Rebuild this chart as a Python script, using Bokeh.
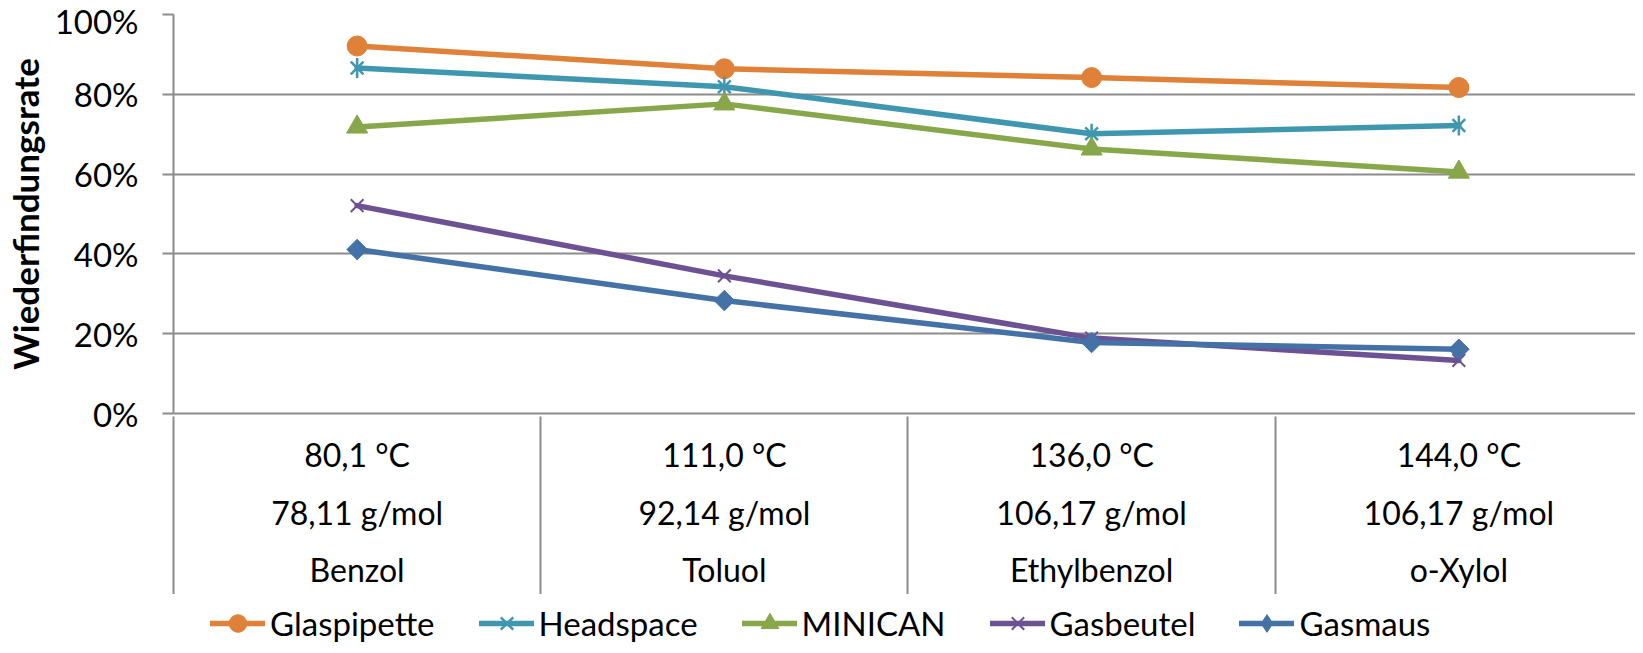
import math
from bokeh.plotting import figure
from bokeh.layouts import column
from bokeh.models import Range1d, LinearAxis, FixedTicker, Legend, LegendItem
from bokeh.embed import file_html
from bokeh.resources import INLINE

# ---- data ----
categories = ["Benzol", "Toluol", "Ethylbenzol", "o-Xylol"]
boiling_points = ["80,1 °C", "111,0 °C", "136,0 °C", "144,0 °C"]
molar_masses = ["78,11 g/mol", "92,14 g/mol", "106,17 g/mol", "106,17 g/mol"]

series_names = ["Glaspipette", "Headspace", "MINICAN", "Gasbeutel", "Gasmaus"]
glaspipette = [92.1, 86.4, 84.2, 81.7]
headspace = [86.6, 81.9, 70.1, 72.2]
minican = [71.8, 77.6, 66.3, 60.5]
gasbeutel = [52.1, 34.5, 18.9, 13.3]
gasmaus = [41.1, 28.3, 17.8, 16.1]

y_ticks = [0, 20, 40, 60, 80, 100]
y_tick_labels = ["0%", "20%", "40%", "60%", "80%", "100%"]
y_title = "Wiederfindungsrate"

# ---- styles ----
FONT = "Lato"
GRID = "#8c8c8c"
colors = ["#df8139", "#3e97af", "#87a74a", "#6c5292", "#4471a6"]

ncat = len(categories)
xs = [i + 0.5 for i in range(ncat)]

p = figure(width=1635, height=594, output_backend="svg", toolbar_location=None,
           x_range=Range1d(0, 3.981), y_range=Range1d(0, 1.0),
           x_axis_location=None, min_border_left=165, min_border_right=0,
           min_border_top=14, min_border_bottom=180, outline_line_color=None,
           background_fill_color="white", border_fill_color="white")
p.xgrid.visible = False

# y axis
ya = p.yaxis[0]
ya.ticker = FixedTicker(ticks=[t / 100 for t in y_ticks])
ya.major_label_overrides = {t / 100: l for t, l in zip(y_ticks, y_tick_labels)}
ya.axis_line_color = GRID
ya.axis_line_width = 2
ya.major_tick_line_color = GRID
ya.major_tick_line_width = 2
ya.major_tick_out = 11
ya.major_tick_in = 0
ya.minor_tick_line_color = None
ya.major_label_standoff = 24
ya.major_label_text_font = FONT
ya.major_label_text_font_size = "33px"
ya.major_label_text_color = "black"
ya.axis_label = y_title
ya.axis_label_text_font = FONT
ya.axis_label_text_font_style = "bold"
ya.axis_label_text_font_size = "35px"
ya.axis_label_text_color = "black"
ya.axis_label_standoff = 6

p.ygrid.ticker = FixedTicker(ticks=[t / 100 for t in y_ticks])
p.ygrid.grid_line_color = GRID
p.ygrid.grid_line_width = 2

# category axes (three lines of labels)
label_rows = [boiling_points, molar_masses, categories]
standoffs = [21, 16, 15]
for k, (row, so) in enumerate(zip(label_rows, standoffs)):
    ax = LinearAxis(ticker=FixedTicker(ticks=xs))
    if k == 0:
        ax.axis_line_color = GRID
        ax.axis_line_width = 2
    else:
        ax.axis_line_color = None
    ax.minor_tick_line_color = None
    ax.major_tick_line_color = None
    ax.major_tick_out = 0
    ax.major_tick_in = 0
    ax.minor_tick_out = 0
    ax.minor_tick_in = 0
    ax.major_label_overrides = {x: lab for x, lab in zip(xs, row)}
    ax.major_label_standoff = so
    ax.major_label_text_font = FONT
    ax.major_label_text_font_size = "32px"
    ax.major_label_text_color = "black"
    p.add_layout(ax, "below")

# separators of the category table (minor ticks pointing up to the plot)
sep = LinearAxis(ticker=FixedTicker(ticks=[], minor_ticks=list(range(ncat))))
sep.axis_line_color = None
sep.major_tick_line_color = None
sep.major_tick_out = 0
sep.major_tick_in = 0
sep.major_label_standoff = 0
sep.axis_label_standoff = 0
sep.minor_tick_line_color = GRID
sep.minor_tick_line_width = 2
sep.minor_tick_in = 175
sep.minor_tick_out = 3
p.add_layout(sep, "below")

all_series = [glaspipette, headspace, minican, gasbeutel, gasmaus]


def draw_series(fig, in_legend):
    out = []
    for k, (name, vals, c) in enumerate(zip(series_names, all_series, colors)):
        ys = [v / 100 for v in vals]
        rs = [fig.line(xs, ys, line_color=c, line_width=5.5, line_join="round", line_cap="round")]
        if k == 0:
            rs.append(fig.scatter(xs, ys, marker="circle", size=20, line_color=c, fill_color=c))
        elif k == 1:
            rs.append(fig.scatter(xs, ys, marker="x", size=18, line_color=c, line_width=2.5))
            rs.append(fig.scatter(xs, ys, marker="dash", size=20, angle=math.pi / 2,
                                  line_color=c, line_width=2.5))
        elif k == 2:
            rs.append(fig.scatter(xs, ys, marker="triangle", size=21, line_color=c, fill_color=c))
        elif k == 3:
            rs.append(fig.scatter(xs, ys, marker="x", size=18, line_color=c, line_width=2))
        else:
            if in_legend:
                rs.append(fig.scatter(xs, ys, marker="diamond", size=20, line_color=c, fill_color=c))
            else:
                rs.append(fig.scatter(xs, ys, marker="square", size=14.5, angle=math.pi / 4,
                                      line_color=c, fill_color=c))
        out.append((name, rs))
    return out


draw_series(p, False)

# legend strip below the chart
pl = figure(width=1635, height=51, output_backend="svg", toolbar_location=None,
            x_range=Range1d(0, 3.981), y_range=Range1d(10, 11),
            x_axis_location=None, y_axis_location=None,
            min_border_left=0, min_border_right=0, min_border_top=0, min_border_bottom=0,
            outline_line_color=None, background_fill_color="white", border_fill_color="white")
pl.grid.visible = False
items = [LegendItem(label=name, renderers=rs) for name, rs in draw_series(pl, True)]
legend = Legend(items=items, orientation="horizontal", location=(37, 0),
                glyph_width=55, glyph_height=44, label_standoff=5, spacing=44,
                padding=0, margin=0, border_line_color=None, background_fill_alpha=0,
                label_text_font=FONT, label_text_font_size="33px", label_text_color="black")
pl.add_layout(legend, "center")

layout = column(p, pl, spacing=0)
open("out.html", "w").write(file_html(layout, INLINE))
